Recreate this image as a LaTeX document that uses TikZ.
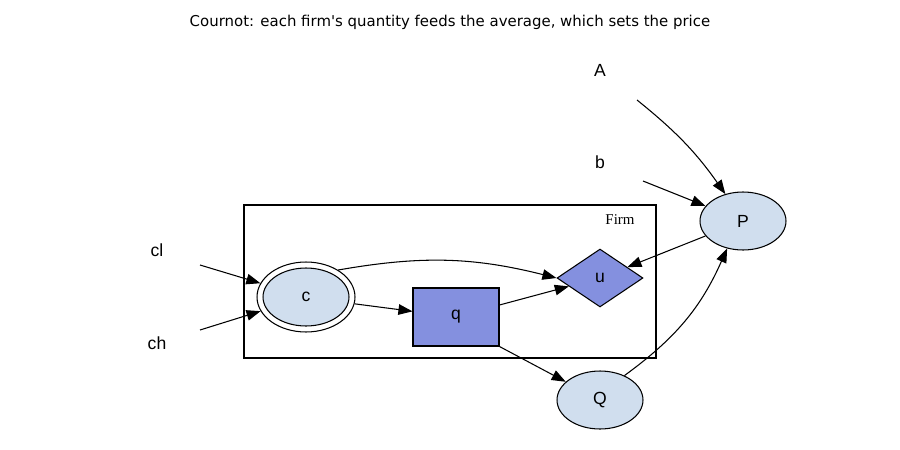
\documentclass[tikz,border=0pt]{standalone}
\usepackage{fontspec}
\setmainfont{Liberation Sans}
\newfontfamily\titlefont{DejaVu Sans}
\newfontfamily\serifnm{Liberation Serif}
\usetikzlibrary{shapes.geometric,arrows.meta}
\definecolor{lightb}{HTML}{D0DEEE}
\definecolor{midb}{HTML}{8490DF}
\tikzset{
  ell/.style={ellipse,draw,fill=lightb,line width=0.6pt,minimum width=1.72cm,minimum height=1.16cm,inner sep=0pt,font=\fontsize{10}{12}\selectfont},
  lab/.style={font=\fontsize{10}{12}\selectfont,inner sep=0pt},
  arr/.style={-{Triangle[length=8pt,width=6pt]},line width=0.6pt},
}
\begin{document}
\begin{tikzpicture}[x=0.02cm,y=-0.02cm]
\useasboundingbox (0,0) rectangle (900,450);
\node[font=\titlefont\fontsize{8.5}{10}\selectfont] (title) at (450,22) {Cournot: each firm's quantity feeds the average, which sets the price};
\node[lab] (A) at (600,70) {A};
\node[lab] (b) at (600,162) {b};
\node[lab] (cl) at (157,250) {cl};
\node[lab] (ch) at (157,343) {ch};
\draw[line width=0.6pt] (244,205) rectangle (656,358);
\node[font=\serifnm\fontsize{8.5}{10}\selectfont,inner sep=0pt] (firm) at (620,220) {Firm};
\node[ell] (P) at (743,221) {P};
\node[ell] (Q) at (600,400) {Q};
\node[ellipse,draw,line width=0.6pt,minimum width=1.96cm,minimum height=1.4cm] (co) at (306,297) {};
\node[ell] (c) at (306,297) {c};
\node[draw,fill=midb,line width=0.6pt,minimum width=1.72cm,minimum height=1.16cm,font=\fontsize{10}{12}\selectfont] (q) at (456,317) {q};
\node[diamond,draw,fill=midb,line width=0.6pt,minimum width=1.72cm,minimum height=1.16cm,inner sep=0pt,aspect=1.48,font=\fontsize{10}{12}\selectfont] (u) at (600,278) {u};
\coordinate (As) at (637,100);
\coordinate (bs) at (643,181);
\coordinate (cls) at (200,265);
\coordinate (chs) at (200,330);
\draw[arr] (As) to[bend left=8] (P);
\draw[arr] (bs) -- (P);
\draw[arr] (P) -- (u);
\draw[arr] (cls) -- (co);
\draw[arr] (chs) -- (co);
\draw[arr] (co.40) to[bend left=12] (u.west);
\draw[arr] (co.-8) -- (q);
\draw[arr] (q.east|-0,305) -- (u);
\draw[arr] (q.south east) -- (Q);
\draw[arr] (Q.45) to[bend right=15] (P.-120);
\end{tikzpicture}
\end{document}
